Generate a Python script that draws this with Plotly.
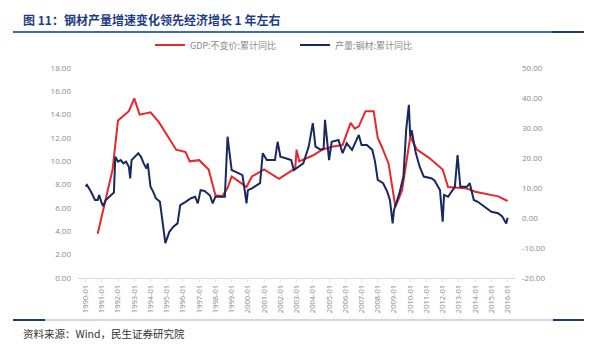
import plotly.graph_objects as go

# ---------------- data ----------------
gdp_dates = ["1990-10", "1991-09", "1992-01", "1992-09", "1993-01", "1993-05", "1994-01",
             "1994-07", "1995-02", "1995-08", "1996-03", "1996-06", "1997-01", "1997-08",
             "1998-01", "1998-06", "1998-10", "1999-01", "1999-06", "1999-12", "2000-04",
             "2001-01", "2001-12", "2002-12", "2003-01", "2003-03", "2004-01", "2004-08",
             "2005-03", "2005-11", "2006-05", "2006-08", "2006-11", "2007-04", "2007-10",
             "2008-01", "2008-04", "2008-09", "2009-02", "2009-07", "2010-01", "2010-06",
             "2011-03", "2012-01", "2012-05", "2013-06", "2014-01", "2015-01", "2015-06",
             "2016-01"]
gdp_values = [3.8, 9.3, 13.5, 14.3, 15.4, 14.0, 14.2,
              13.4, 12.1, 11.0, 10.8, 10.0, 10.1, 9.3,
              7.1, 7.0, 7.7, 8.7, 8.3, 7.8, 8.7,
              9.3, 8.5, 9.4, 11.0, 10.0, 10.5, 11.0,
              11.25, 11.4, 13.3, 12.8, 13.0, 14.3, 14.3,
              12.0, 11.25, 9.8, 6.1, 7.5, 12.1, 11.0,
              10.3, 9.3, 7.8, 7.7, 7.4, 7.1, 7.0,
              6.6]

steel_dates = ["1990-01", "1990-02", "1990-05", "1990-08", "1990-10", "1990-11", "1991-01",
               "1991-02", "1991-04", "1991-08", "1991-10", "1991-11", "1992-01", "1992-03",
               "1992-05", "1992-07", "1992-09", "1992-10", "1992-11", "1993-04", "1993-06",
               "1993-08", "1993-10", "1993-11", "1994-01", "1994-03", "1994-05", "1994-08",
               "1994-10", "1994-12", "1995-03", "1995-06", "1995-09", "1995-11", "1996-03",
               "1996-07", "1996-10", "1996-12", "1997-02", "1997-05", "1997-09", "1997-11",
               "1998-01", "1998-08", "1998-10", "1999-01", "1999-04", "1999-09", "1999-11",
               "1999-12", "2000-01", "2000-04", "2000-10", "2000-12", "2001-03", "2001-09",
               "2001-11", "2002-01", "2002-05", "2002-09", "2002-11", "2003-01", "2003-06",
               "2003-10", "2004-01", "2004-03", "2004-07", "2004-09", "2004-10", "2005-01",
               "2005-03", "2005-08", "2005-11", "2006-02", "2006-06", "2006-11", "2007-01",
               "2007-05", "2007-09", "2007-11", "2008-01", "2008-05", "2008-08", "2008-10",
               "2008-12", "2009-01", "2009-05", "2009-08", "2009-10", "2009-12", "2010-01",
               "2010-02", "2010-05", "2010-08", "2010-11", "2011-05", "2011-07", "2011-11",
               "2012-01", "2012-02", "2012-05", "2012-10", "2012-12", "2013-02", "2013-07",
               "2013-09", "2013-12", "2014-03", "2014-08", "2015-01", "2015-06", "2015-09",
               "2015-12", "2016-01"]
steel_values = [10.5, 11.0, 8.8, 6.0, 6.0, 7.7, 4.9,
                4.0, 6.0, 7.7, 8.5, 20.4, 18.8, 19.3,
                18.2, 18.8, 17.1, 13.2, 19.3, 21.6, 20.4,
                18.2, 16.5, 18.2, 10.4, 8.8, 6.6, 5.4,
                -1.8, -8.4, -4.6, -2.9, -1.8, 4.3, 5.4,
                6.6, 7.1, 4.9, 9.3, 9.0, 7.5, 4.9,
                7.1, 7.1, 27.1, 16.0, 15.4, 14.3, 8.2,
                4.9, 9.3, 9.9, 11.6, 21.6, 19.3, 19.3,
                25.4, 20.4, 19.9, 19.3, 16.0, 16.6, 18.2,
                23.8, 31.6, 23.8, 22.7, 23.2, 32.7, 19.3,
                25.4, 26.0, 21.6, 24.9, 22.7, 27.7, 24.3,
                24.3, 22.7, 18.8, 12.7, 11.6, 8.8, 6.0,
                -1.8, 2.7, 8.2, 13.8, 29.3, 37.7, 27.1,
                29.3, 22.0, 17.1, 13.8, 13.2, 12.5, 9.3,
                -1.2, 7.7, 7.1, 10.4, 21.0, 10.4, 10.4,
                11.6, 6.0, 5.4, 3.8, 2.1, 1.6, 0.5,
                -1.8, 0.1]

left_ticks = [0, 2, 4, 6, 8, 10, 12, 14, 16, 18]
right_ticks = [-20, -10, 0, 10, 20, 30, 40, 50]

title_text = "图 11：钢材产量增速变化领先经济增长 1 年左右"
source_text = "资料来源：Wind，民生证券研究院"
gdp_name = "GDP:不变价:累计同比"
steel_name = "产量:钢材:累计同比"

# ---------------- layout geometry ----------------
W, H = 591, 345
L, R, T, B = 78, 515, 68, 278
PW, PH = R - L, B - T


def px(x):
    return (x - L) / PW


def py(y):
    return (B - y) / PH


CJK = "Noto Sans CJK SC"
NUM = "Open Sans"

fig = go.Figure()
fig.add_trace(go.Scatter(
    x=[d + "-01" for d in gdp_dates], y=gdp_values, name=gdp_name,
    mode="lines", line=dict(color="#e8262b", width=2), yaxis="y"))
fig.add_trace(go.Scatter(
    x=[d + "-01" for d in steel_dates], y=steel_values, name=steel_name,
    mode="lines", line=dict(color="#17295e", width=2), yaxis="y2"))

fig.update_layout(
    width=W, height=H,
    margin=dict(l=L, r=W - R, t=T, b=H - B),
    paper_bgcolor="white", plot_bgcolor="white",
    showlegend=True,
    legend=dict(orientation="h", x=px(150), y=py(45), xanchor="left", yanchor="middle",
                font=dict(family=CJK, size=9, color="#8a8a8a"),
                bgcolor="rgba(0,0,0,0)", itemwidth=30, entrywidth=100),
    xaxis=dict(type="date", range=["1989-07-15", "2016-06-15"],
               tick0="1990-01-01", dtick="M12", tickformat="%Y-%m",
               tickangle=-90, showgrid=False, zeroline=False,
               showline=True, linecolor="#d9d9d9", linewidth=1,
               ticks="outside", ticklen=3, tickcolor="#e3e3e3",
               tickfont=dict(family=NUM, size=7.5, color="#8a8a8a")),
    yaxis=dict(range=[0, 18], tickvals=left_ticks,
               ticktext=[f"{v:.2f}" for v in left_ticks],
               showgrid=False, zeroline=False, showline=False,
               ticklabelstandoff=6,
               tickfont=dict(family=NUM, size=8, color="#8a8a8a")),
    yaxis2=dict(range=[-20, 50], tickvals=right_ticks,
                ticktext=[f"{v:.2f}" for v in right_ticks],
                overlaying="y", side="right",
                showgrid=False, zeroline=False, showline=False,
                ticklabelstandoff=6,
                tickfont=dict(family=NUM, size=8, color="#8a8a8a")),
)

# title and source
fig.add_annotation(text="<b>" + title_text + "</b>", xref="paper", yref="paper",
                   x=px(21), y=py(20), xanchor="left", yanchor="middle", showarrow=False,
                   font=dict(family=CJK, size=12, color="#1f3c88"))
fig.add_annotation(text=source_text, xref="paper", yref="paper",
                   x=px(21), y=py(333), xanchor="left", yanchor="middle", showarrow=False,
                   font=dict(family=CJK, size=10.5, color="#333333"))

# decorative rules
shapes = [
    dict(type="line", xref="paper", yref="paper", x0=px(13), x1=px(584), y0=py(32), y1=py(32),
         line=dict(color="#3a6ea5", width=2)),
    dict(type="line", xref="paper", yref="paper", x0=px(552), x1=px(584), y0=py(32), y1=py(32),
         line=dict(color="#1b3d6e", width=2)),
    dict(type="line", xref="paper", yref="paper", x0=px(13), x1=px(584), y0=py(320), y1=py(320),
         line=dict(color="#b7cde3", width=1.5)),
    dict(type="line", xref="paper", yref="paper", x0=px(13), x1=px(45), y0=py(320), y1=py(320),
         line=dict(color="#1b3d6e", width=2)),
    dict(type="line", xref="paper", yref="paper", x0=px(553), x1=px(584), y0=py(320), y1=py(320),
         line=dict(color="#1b3d6e", width=2)),
]
fig.update_layout(shapes=shapes)

fig.write_html("out.html")
